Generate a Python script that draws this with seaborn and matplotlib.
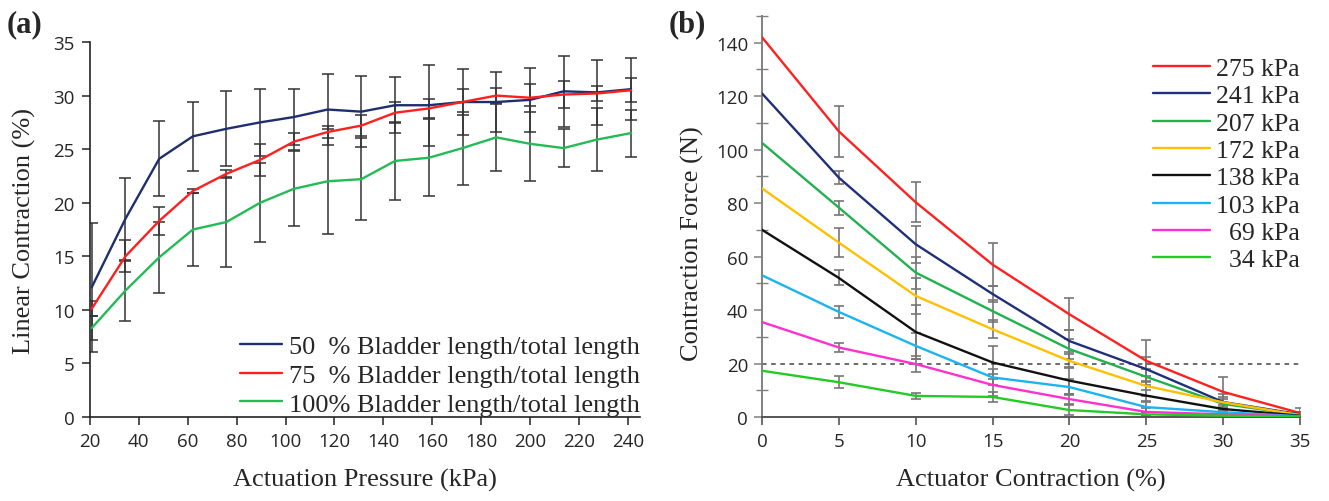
import matplotlib
matplotlib.use("Agg")
import matplotlib.pyplot as plt
import numpy as np
import pandas as pd
import seaborn as sns
from matplotlib.ticker import MultipleLocator

# ---------------- Panel (a) data ----------------
pressure_kpa = [20.7, 34.5, 48.3, 62.1, 75.8, 89.6, 103.4, 117.2, 131.0, 144.8,
                158.6, 172.4, 186.2, 200.0, 213.7, 227.5, 241.3]
contraction_50 = [12.1, 18.5, 24.1, 26.2, 26.9, 27.5, 28.0, 28.7, 28.5, 29.1,
                  29.1, 29.4, 29.4, 29.6, 30.4, 30.3, 30.6]
contraction_75 = [10.1, 15.0, 18.3, 21.1, 22.7, 24.0, 25.7, 26.6, 27.2, 28.4,
                  28.8, 29.4, 30.0, 29.8, 30.1, 30.2, 30.5]
contraction_100 = [8.3, 11.8, 14.9, 17.5, 18.2, 20.0, 21.3, 22.0, 22.2, 23.9,
                   24.2, 25.1, 26.1, 25.5, 25.1, 25.9, 26.5]
err_50 = [6.0, 3.8, 3.5, 3.2, 3.5, 3.1, 2.6, 3.3, 3.3, 2.6, 3.8, 3.1, 2.8, 3.0, 3.3, 3.0, 2.9]
err_75 = [0.7, 1.5, 1.3, 0.2, 0.4, 1.5, 0.8, 0.6, 1.0, 1.0, 0.9, 1.2, 0.7, 1.3, 1.3, 0.7, 1.1]
err_100 = [1.1, 2.8, 3.3, 3.4, 4.2, 3.7, 3.5, 4.9, 3.8, 3.6, 3.6, 3.4, 3.1, 3.5, 1.8, 2.9, 2.2]
labels_a = ["50  % Bladder length/total length",
            "75  % Bladder length/total length",
            "100% Bladder length/total length"]
colors_a = ["#1f2f6e", "#ff1f1f", "#22bb55"]

# ---------------- Panel (b) data ----------------
contraction_pct = [0, 5, 10, 15, 20, 25, 30, 35]
force_275 = [142.0, 106.8, 80.3, 57.0, 38.4, 21.0, 9.4, 1.5]
force_241 = [121.0, 89.5, 64.6, 46.0, 28.4, 17.9, 5.6, 1.0]
force_207 = [102.5, 78.3, 54.0, 39.6, 25.4, 15.0, 4.9, 0.8]
force_172 = [85.5, 65.2, 45.3, 32.8, 21.0, 11.6, 5.5, 0.7]
force_138 = [70.0, 52.0, 31.8, 20.4, 13.6, 8.0, 3.0, 0.5]
force_103 = [53.0, 39.3, 26.6, 14.8, 11.2, 3.7, 1.8, 0.3]
force_69 = [35.5, 26.0, 19.8, 12.0, 6.7, 1.9, 1.0, 0.2]
force_34 = [17.3, 13.0, 7.9, 7.5, 2.6, 1.0, 0.5, 0.2]
ferr_275 = [0, 9.5, 7.5, 8.0, 6.0, 7.8, 5.5, 2.0]
ferr_241 = [0, 2.5, 7.0, 3.0, 4.0, 4.5, 3.0, 1.0]
ferr_207 = [0, 2.6, 6.0, 4.0, 3.7, 3.0, 2.0, 1.0]
ferr_172 = [0, 5.3, 6.7, 3.3, 2.5, 3.8, 2.0, 1.0]
ferr_138 = [0, 2.8, 10.0, 6.0, 5.0, 2.0, 1.5, 0.5]
ferr_103 = [0, 2.2, 5.0, 3.0, 3.0, 2.0, 1.0, 0.5]
ferr_69 = [0, 1.5, 3.0, 4.0, 2.0, 1.5, 1.0, 0.5]
ferr_34 = [0, 2.3, 1.0, 1.9, 2.0, 0.8, 0.5, 0.3]
labels_b = ["275 kPa", "241 kPa", "207 kPa", "172 kPa", "138 kPa", "103 kPa",
            "  69 kPa", "  34 kPa"]
colors_b = ["#ff2020", "#1f2f7a", "#22b050", "#ffc000", "#111111", "#1ab4f0",
            "#ff2fd0", "#22cc22"]
threshold_force = 20

# ---------------- style ----------------
sns.set_style("ticks")
plt.rcParams["font.family"] = ["Liberation Serif", "DejaVu Serif"]
TICKFONT = dict(family="Open Sans", size=13.5)
SERIF = "Liberation Serif"

fig = plt.figure(figsize=(13.29, 5.02), dpi=100)

# ---------------- Panel (a) ----------------
ax1 = fig.add_axes([0.0677, 0.1673, 0.4139, 0.747])
series_a = [contraction_50, contraction_75, contraction_100]
errs_a = [err_50, err_75, err_100]
df_a = pd.concat([pd.DataFrame({"Pressure": pressure_kpa, "Contraction": s, "Series": lab})
                  for s, lab in zip(series_a, labels_a)], ignore_index=True)
for s, e in zip(series_a, errs_a):
    ax1.errorbar(pressure_kpa, s, yerr=e, fmt="none", ecolor="#333333",
                 elinewidth=1.1, capsize=4, capthick=1.1, zorder=1)
sns.lineplot(data=df_a, x="Pressure", y="Contraction", hue="Series",
             hue_order=labels_a, palette=dict(zip(labels_a, colors_a)),
             linewidth=1.7, ax=ax1, zorder=3)
ax1.set_xlim(20, 245)
ax1.set_ylim(0, 35)
ax1.set_xticks(np.arange(20, 241, 20))
ax1.set_yticks(np.arange(0, 36, 5))
for sp in ["top", "right"]:
    ax1.spines[sp].set_visible(False)
for sp in ["left", "bottom"]:
    ax1.spines[sp].set_color("#222222")
    ax1.spines[sp].set_linewidth(1.2)
ax1.tick_params(axis="both", direction="out", length=6, width=1.1, color="#222222", pad=5)
for lab in ax1.get_xticklabels() + ax1.get_yticklabels():
    lab.set_fontfamily(TICKFONT["family"])
    lab.set_fontsize(TICKFONT["size"])
ax1.set_xlabel("Actuation Pressure (kPa)", fontsize=19, family=SERIF)
ax1.set_ylabel("Linear Contraction (%)", fontsize=19, family=SERIF)
ax1.xaxis.set_label_coords(0.5, -0.135)
ax1.yaxis.set_label_coords(-0.098, 0.5)
h, l = ax1.get_legend_handles_labels()
ax1.legend(h, l, loc="lower right", bbox_to_anchor=(1.0, 0.004), frameon=False,
           prop=dict(family=SERIF, size=19), handlelength=1.6, handletextpad=0.25,
           labelspacing=0.2, borderaxespad=0.0, borderpad=0.0)

# ---------------- Panel (b) ----------------
ax2 = fig.add_axes([0.5734, 0.1673, 0.4048, 0.799])
series_b = [force_275, force_241, force_207, force_172, force_138, force_103, force_69, force_34]
errs_b = [ferr_275, ferr_241, ferr_207, ferr_172, ferr_138, ferr_103, ferr_69, ferr_34]
df_b = pd.concat([pd.DataFrame({"Contraction": contraction_pct, "Force": s, "Pressure": lab})
                  for s, lab in zip(series_b, labels_b)], ignore_index=True)
for s, e in zip(series_b, errs_b):
    ax2.errorbar(contraction_pct[1:], s[1:], yerr=e[1:], fmt="none", ecolor="#777777",
                 elinewidth=1.2, capsize=3.5, capthick=1.2, zorder=1)
ax2.hlines(threshold_force, contraction_pct[0], contraction_pct[-1], colors="#444444",
           linestyles=(0, (3, 3)), linewidth=1.1, zorder=2)
sns.lineplot(data=df_b, x="Contraction", y="Force", hue="Pressure",
             hue_order=labels_b, palette=dict(zip(labels_b, colors_b)),
             linewidth=1.7, ax=ax2, zorder=3)
ax2.set_xlim(0, 35)
ax2.set_ylim(0, 150)
ax2.set_xticks(np.arange(0, 36, 5))
ax2.set_yticks(np.arange(0, 141, 20))
ax2.yaxis.set_minor_locator(MultipleLocator(10))
for sp in ["top", "right"]:
    ax2.spines[sp].set_visible(False)
ax2.spines["left"].set_color("#808080")
ax2.spines["bottom"].set_color("#555555")
ax2.spines["left"].set_linewidth(1.4)
ax2.spines["bottom"].set_linewidth(1.4)
ax2.tick_params(axis="y", which="major", direction="out", length=6, width=1.1, color="#808080", pad=4)
ax2.tick_params(axis="y", which="minor", direction="inout", length=8, width=1.0, color="#808080")
ax2.tick_params(axis="x", which="major", direction="out", length=6, width=1.2, color="#555555", pad=5)
for lab in ax2.get_xticklabels() + ax2.get_yticklabels():
    lab.set_fontfamily(TICKFONT["family"])
    lab.set_fontsize(TICKFONT["size"])
ax2.set_xlabel("Actuator Contraction (%)", fontsize=19, family=SERIF)
ax2.set_ylabel("Contraction Force (N)", fontsize=19, family=SERIF)
ax2.xaxis.set_label_coords(0.5, -0.127)
ax2.yaxis.set_label_coords(-0.108, 0.434)
h, l = ax2.get_legend_handles_labels()
ax2.legend(h, l, loc="upper right", bbox_to_anchor=(1.0, 0.898), frameon=False,
           prop=dict(family=SERIF, size=18.5), handlelength=2.2, handletextpad=0.25,
           labelspacing=0.17, borderaxespad=0.0, borderpad=0.0)

# panel labels
fig.text(0.005, 0.936, "(a)", fontsize=22, fontweight="bold", family=SERIF, va="baseline")
fig.text(0.503, 0.936, "(b)", fontsize=22, fontweight="bold", family=SERIF, va="baseline")

fig.savefig("out.png", dpi=100)
